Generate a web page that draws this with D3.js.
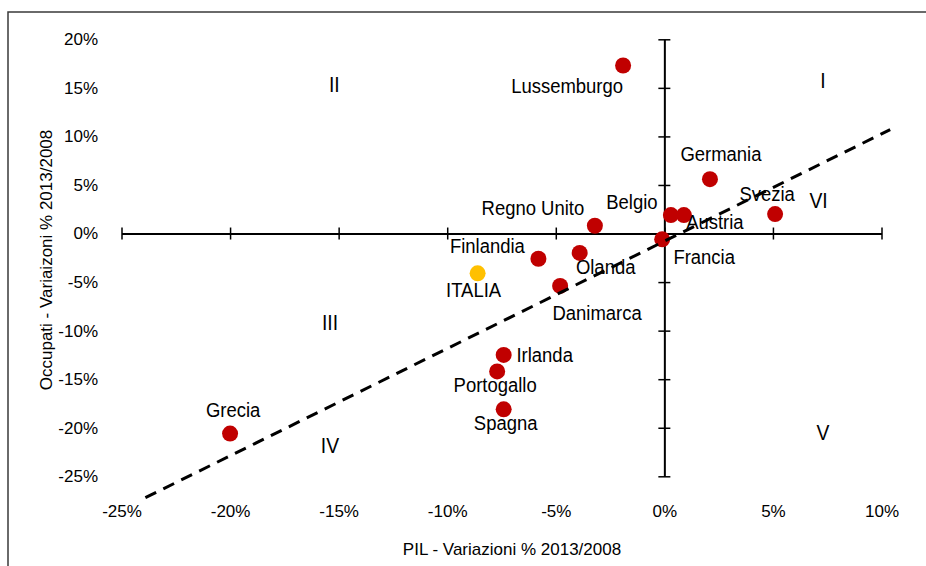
<!DOCTYPE html>
<html>
<head>
<meta charset="utf-8">
<script src="https://cdn.jsdelivr.net/npm/d3@7"></script>
<style>
  body { margin: 0; background: #fff; }
  svg { display: block; font-family: "Liberation Sans", Arial, sans-serif; }
  .tick-label text { font-size: 17px; fill: #000; }
  .point-label { font-size: 21px; fill: #000; text-anchor: middle; }
  .quad-label { font-size: 22px; fill: #000; text-anchor: middle; }
  .axis-text { font-size: 17px; fill: #000; text-anchor: middle; }
</style>
</head>
<body>
<script>
// Data (percent change 2013/2008)
let countries = ["Lussemburgo", "Germania", "Belgio", "Austria", "Svezia", "Francia", "Regno Unito",
    "Olanda", "Finlandia", "ITALIA", "Danimarca", "Irlanda", "Portogallo", "Spagna", "Grecia"];
let pilChange = [-1.9, 2.1, 0.3, 0.9, 5.1, -0.1, -3.2, -3.9, -5.8, -8.6, -4.8, -7.4, -7.7, -7.4, -20.0];
let occupatiChange = [17.3, 5.6, 1.9, 1.9, 2.0, -0.6, 0.8, -2.0, -2.6, -4.1, -5.4, -12.5, -14.2, -18.1, -20.6];

// Trend line end points
let trendX = [-23.9, 10.4];
let trendY = [-27.2, 10.7];

// Tick values
let xTicks = [-25, -20, -15, -10, -5, 0, 5, 10];
let yTicks = [-25, -20, -15, -10, -5, 0, 5, 10, 15, 20];

// Quadrant labels (placed in data units)
let quadrants = ["I", "II", "III", "IV", "V", "VI"];
let quadX = [7.3, -15.2, -15.4, -15.4, 7.3, 7.1];
let quadY = [15.0, 14.6, -9.9, -22.6, -21.3, 2.6];

// Label offsets in pixels from each point (layout only)
let labelOffsets = [[-56, 27], [11, -18], [-39, -6], [31, 14], [-8, -13], [42, 25], [-62, -11],
    [26, 21], [-51, -6], [-4, 24], [37, 34], [41, 7], [-2, 21], [2, 21], [3, -17]];

let svgWidth = 926;
let svgHeight = 566;

let chartMargin = { top: 39.3, left: 121.5 };
let chartWidth = 760;
let chartHeight = 437;

// The chart's label font is a little condensed
let squeeze = 0.88;

let svg = d3.select("body")
    .append("svg")
    .attr("width", svgWidth)
    .attr("height", svgHeight);

// Outer frame (right and bottom edges fall outside the picture)
svg.append("rect")
    .attr("x", 8)
    .attr("y", 12)
    .attr("width", 940)
    .attr("height", 600)
    .attr("fill", "none")
    .attr("stroke", "#3a3a3a")
    .attr("stroke-width", 1.5);

let chartGroup = svg.append("g")
    .attr("transform", `translate(${chartMargin.left}, ${chartMargin.top})`);

let xScale = d3.scaleLinear().domain([-25, 10]).range([0, chartWidth]);
let yScale = d3.scaleLinear().domain([-25, 20]).range([chartHeight, 0]);

let pct = d => d + "%";

// Tick labels along the left and bottom edges
chartGroup.append("g")
    .attr("class", "tick-label")
    .attr("transform", `translate(0, ${chartHeight})`)
    .call(d3.axisBottom(xScale).tickValues(xTicks).tickFormat(pct).tickSize(0).tickPadding(29))
    .call(g => g.select(".domain").remove())
    .call(g => g.selectAll("text").attr("font-size", null).attr("font-family", null));

chartGroup.append("g")
    .attr("class", "tick-label")
    .call(d3.axisLeft(yScale).tickValues(yTicks).tickFormat(pct).tickSize(0).tickPadding(23.5))
    .call(g => g.select(".domain").remove())
    .call(g => g.selectAll("text").attr("font-size", null).attr("font-family", null));

// Crossing axes at zero
let xAxisLine = chartGroup.append("g")
    .attr("transform", `translate(0, ${yScale(0)})`)
    .call(d3.axisBottom(xScale).tickValues(xTicks).tickFormat("").tickSizeOuter(0));
xAxisLine.select(".domain").attr("stroke", "#000").attr("stroke-width", 2);
xAxisLine.selectAll(".tick line").attr("y1", -6).attr("y2", 6).attr("stroke", "#000").attr("stroke-width", 1.5);

let yAxisLine = chartGroup.append("g")
    .attr("transform", `translate(${xScale(0)}, 0)`)
    .call(d3.axisLeft(yScale).tickValues(yTicks).tickFormat("").tickSizeOuter(0));
yAxisLine.select(".domain").attr("stroke", "#000").attr("stroke-width", 2);
yAxisLine.selectAll(".tick line").attr("x1", -6).attr("x2", 6).attr("stroke", "#000").attr("stroke-width", 1.5);

// Quadrant labels
chartGroup.selectAll(".quad-label")
    .data(quadrants)
    .enter()
    .append("text")
    .attr("class", "quad-label")
    .attr("transform", (d, i) => `translate(${xScale(quadX[i])}, ${yScale(quadY[i])}) scale(${squeeze}, 1)`)
    .text(d => d);

// Points
chartGroup.selectAll("circle")
    .data(countries)
    .enter()
    .append("circle")
    .attr("r", 8)
    .attr("cx", (d, i) => xScale(pilChange[i]))
    .attr("cy", (d, i) => yScale(occupatiChange[i]))
    .attr("fill", d => d === "ITALIA" ? "#ffc000" : "#c00000");

// Country labels
chartGroup.selectAll(".point-label")
    .data(countries)
    .enter()
    .append("text")
    .attr("class", "point-label")
    .attr("transform", (d, i) => {
        let x = xScale(pilChange[i]) + labelOffsets[i][0];
        let y = yScale(occupatiChange[i]) + labelOffsets[i][1];
        return `translate(${x}, ${y}) scale(${squeeze}, 1)`;
    })
    .text(d => d);

// Dashed trend line
chartGroup.append("line")
    .attr("x1", xScale(trendX[0]))
    .attr("y1", yScale(trendY[0]))
    .attr("x2", xScale(trendX[1]))
    .attr("y2", yScale(trendY[1]))
    .attr("stroke", "#000")
    .attr("stroke-width", 3)
    .attr("stroke-dasharray", "12,8");

// Axis titles
svg.append("text")
    .attr("class", "axis-text")
    .attr("x", 512)
    .attr("y", 555)
    .text("PIL - Variazioni % 2013/2008");

svg.append("text")
    .attr("class", "axis-text")
    .attr("transform", "translate(52, 260) rotate(-90)")
    .text("Occupati - Variaizoni % 2013/2008");
</script>
</body>
</html>
